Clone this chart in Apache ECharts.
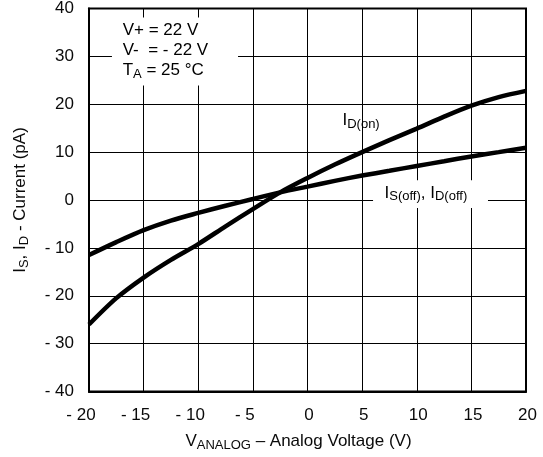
<!DOCTYPE html>
<html><head><meta charset="utf-8">
<script src="https://cdn.jsdelivr.net/npm/echarts@6/dist/echarts.min.js"></script>
<style>html,body{margin:0;padding:0;background:#fff}#c{width:543px;height:457px}</style>
</head><body><div id="c"></div>
<script>
var xValues = [-20, -17.5, -15, -12.5, -10, -7.5, -5, -2.5, 0, 2.5, 5, 7.5, 10, 12.5, 15, 17.5, 20];
var idOn    = [-26, -20.5, -16.2, -12.5, -9.2, -5.5, -1.9, 1.6, 4.6, 7.4, 10, 12.5, 14.9, 17.4, 19.7, 21.5, 22.8];
var isOff   = [-11.5, -8.8, -6.3, -4.3, -2.7, -1.2, 0.2, 1.6, 2.8, 4.0, 5.1, 6.1, 7.1, 8.1, 9.1, 10.0, 10.9];
var xTicks = [-20, -15, -10, -5, 0, 5, 10, 15, 20];
var yTicks = [-40, -30, -20, -10, 0, 10, 20, 30, 40];

function pairs(ys){ return xValues.map(function(x,i){ return [x, ys[i]]; }); }
function fmt(v){ return v < 0 ? '- ' + Math.abs(v) : String(v); }
function fmtX(v){ return v < 0 ? '{n|- ' + Math.abs(v) + '}' : '{p|' + v + '}'; }

var FONT = 'Liberation Sans, Arial, sans-serif';
var TXT = '#0a0a0a';
var chart = echarts.init(document.getElementById('c'), null, {renderer:'canvas'});
var rich = {
  m: {fontFamily: FONT, fontSize: 17, color: TXT, lineHeight: 20},
  s: {fontFamily: FONT, fontSize: 13, color: TXT, lineHeight: 12, padding: [8,0,0,0]}
};
chart.setOption({
  animation: false,
  backgroundColor: '#fff',
  grid: {left: 89, right: 17, top: 6, bottom: 63, show: true, borderColor: '#000', borderWidth: 2, backgroundColor: 'transparent'},
  xAxis: {
    type: 'value', min: -20, max: 20, interval: 5,
    axisLine: {show: true, onZero: false, lineStyle: {color: '#000', width: 2}},
    axisTick: {show: false},
    splitLine: {show: true, lineStyle: {color: '#000', width: 1}},
    axisLabel: {formatter: fmtX, fontFamily: FONT, fontSize: 17, color: TXT, margin: 15,
      rich: {
        n: {fontFamily: FONT, fontSize: 17, color: TXT, padding: [0, 16, 0, 0]},
        p: {fontFamily: FONT, fontSize: 17, color: TXT, padding: [0, 0, 0, 3]}
      }},
    name: '{m|V}{s|ANALOG}{m| – Analog Voltage (V)}',
    nameLocation: 'middle', nameGap: 40,
    nameTextStyle: {rich: rich, padding: [0, 18, 0, 0]}
  },
  yAxis: {
    type: 'value', min: -40, max: 40, interval: 10,
    axisLine: {show: true, onZero: false, lineStyle: {color: '#000', width: 2}},
    axisTick: {show: false},
    splitLine: {show: true, lineStyle: {color: '#000', width: 1}},
    axisLabel: {formatter: fmt, fontFamily: FONT, fontSize: 17, color: TXT, margin: 15},
    name: '{m|I}{s|S}{m|, I}{s|D}{m| - Current (pA)}',
    nameLocation: 'middle', nameGap: 59,
    nameTextStyle: {rich: rich}
  },
  series: [
    {type: 'line', data: pairs(idOn), smooth: 0.3, symbol: 'none', lineStyle: {color: '#000', width: 4.5}, z: 3},
    {type: 'line', data: pairs(isOff), smooth: 0.3, symbol: 'none', lineStyle: {color: '#000', width: 4.5}, z: 3}
  ]
});

function px(x, y){ return chart.convertToPixel({gridIndex: 0}, [x, y]); }
var pBoxA = px(-17.9, 38.1);
var pBoxB = px(-6.36, 23.9);
var pTxt = px(-16.92, 31.24);
var pOn = px(3.2, 16.6);
var pOffA = px(6.0, 4.12);
var pOffB = px(16.52, -1.65);
var pOffT = px(7.05, 1.48);
chart.setOption({
  graphic: [
    {type: 'rect', shape: {x: pBoxA[0], y: pBoxA[1], width: pBoxB[0]-pBoxA[0], height: pBoxB[1]-pBoxA[1]}, style: {fill: '#fff'}, z: 10},
    {type: 'text', x: pTxt[0], y: pTxt[1], z: 11, style: {text: '{m|V+ = 22 V}\n{m|V-  = - 22 V}\n{m|T}{s|A}{m| = 25 °C}', rich: rich, verticalAlign: 'middle'}},
    {type: 'text', x: pOn[0], y: pOn[1], z: 11, style: {text: '{m|I}{s|D(on)}', rich: rich, verticalAlign: 'middle'}},
    {type: 'rect', shape: {x: pOffA[0], y: pOffA[1], width: pOffB[0]-pOffA[0], height: pOffB[1]-pOffA[1]}, style: {fill: '#fff'}, z: 10},
    {type: 'text', x: pOffT[0], y: pOffT[1], z: 11, style: {text: '{m|I}{s|S(off)}{m|, I}{s|D(off)}', rich: rich, verticalAlign: 'middle'}}
  ]
});
</script></body></html>
